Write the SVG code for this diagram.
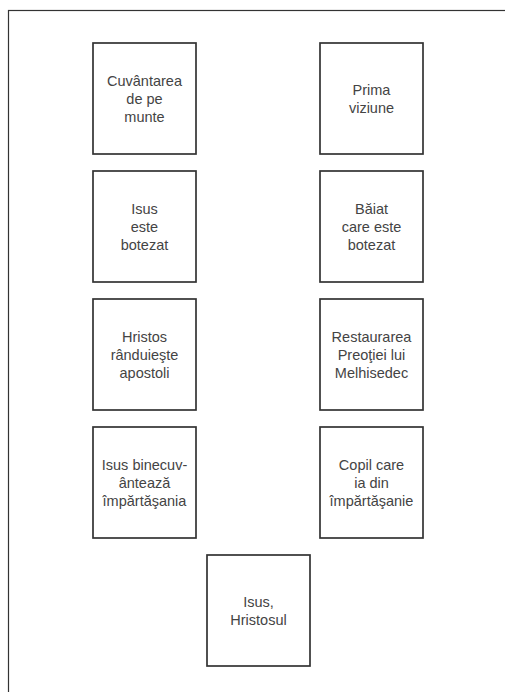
<svg xmlns="http://www.w3.org/2000/svg" width="505" height="692" viewBox="0 0 505 692">
<style>
.box{fill:#fff;stroke:#333;stroke-width:1.7}
.lbl{font-family:"Liberation Sans",Arial,Helvetica,sans-serif;font-size:14.5px;fill:#444;text-anchor:middle}
.frame{fill:none;stroke:#333;stroke-width:1.2}
</style>
<rect width="505" height="692" fill="#fff"/>
<rect class="frame" x="8.5" y="10.5" width="520" height="700"/>
<g id="connectors"/>
<g id="n1"><rect class="box" x="93" y="43" width="103" height="111"/>
<text class="lbl"><tspan x="144.5" y="85.5">Cuvântarea</tspan><tspan x="144.5" y="103.5">de pe</tspan><tspan x="144.5" y="121.5">munte</tspan></text></g>
<g id="n2"><rect class="box" x="320" y="43" width="103" height="111"/>
<text class="lbl"><tspan x="371.5" y="94.5">Prima</tspan><tspan x="371.5" y="112.5">viziune</tspan></text></g>
<g id="n3"><rect class="box" x="93" y="171" width="103" height="111"/>
<text class="lbl"><tspan x="144.5" y="213.5">Isus</tspan><tspan x="144.5" y="231.5">este</tspan><tspan x="144.5" y="249.5">botezat</tspan></text></g>
<g id="n4"><rect class="box" x="320" y="171" width="103" height="111"/>
<text class="lbl"><tspan x="371.5" y="213.5">Băiat</tspan><tspan x="371.5" y="231.5">care este</tspan><tspan x="371.5" y="249.5">botezat</tspan></text></g>
<g id="n5"><rect class="box" x="93" y="299" width="103" height="111"/>
<text class="lbl"><tspan x="144.5" y="341.5">Hristos</tspan><tspan x="144.5" y="359.5">rânduieşte</tspan><tspan x="144.5" y="377.5">apostoli</tspan></text></g>
<g id="n6"><rect class="box" x="320" y="299" width="103" height="111"/>
<text class="lbl"><tspan x="371.5" y="341.5">Restaurarea</tspan><tspan x="371.5" y="359.5">Preoţiei lui</tspan><tspan x="371.5" y="377.5">Melhisedec</tspan></text></g>
<g id="n7"><rect class="box" x="93" y="427" width="103" height="111"/>
<text class="lbl"><tspan x="144.5" y="469.5">Isus binecuv-</tspan><tspan x="144.5" y="487.5">ântează</tspan><tspan x="144.5" y="505.5">împărtăşania</tspan></text></g>
<g id="n8"><rect class="box" x="320" y="427" width="103" height="111"/>
<text class="lbl"><tspan x="371.5" y="469.5">Copil care</tspan><tspan x="371.5" y="487.5">ia din</tspan><tspan x="371.5" y="505.5">împărtăşanie</tspan></text></g>
<g id="n9"><rect class="box" x="207" y="555" width="103" height="111"/>
<text class="lbl"><tspan x="258.5" y="606.5">Isus,</tspan><tspan x="258.5" y="624.5">Hristosul</tspan></text></g>
</svg>
